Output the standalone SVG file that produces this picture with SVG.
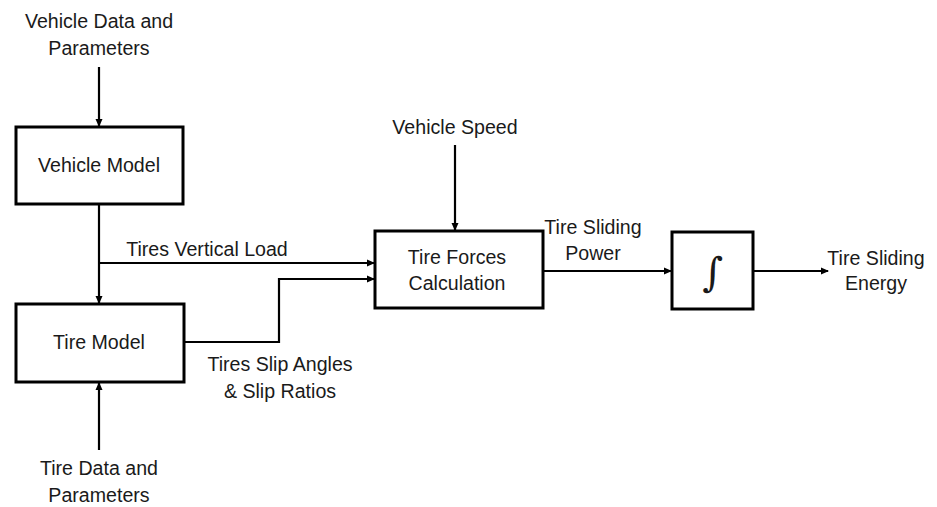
<svg xmlns="http://www.w3.org/2000/svg" width="937" height="507" viewBox="0 0 937 507">
<style>
.box{fill:#fff;stroke:#000;stroke-width:3}
.ln{fill:none;stroke:#000;stroke-width:2.2}
text{font-family:"Liberation Sans",Arial,sans-serif;font-size:19.6px;fill:#1a1a1a;text-anchor:middle}
</style>
<defs>
<marker id="ah" markerWidth="8" markerHeight="8" refX="7" refY="4" orient="auto" markerUnits="userSpaceOnUse">
<path d="M0,0.5 L8,4 L0,7.5 Z" fill="#000"/>
</marker>
</defs>
<rect width="937" height="507" fill="#fff"/>
<g id="connectors">
<line class="ln" x1="99" y1="67" x2="99" y2="126" marker-end="url(#ah)"/>
<line class="ln" x1="99" y1="204" x2="99" y2="303" marker-end="url(#ah)"/>
<line class="ln" x1="99" y1="263" x2="374" y2="263" marker-end="url(#ah)"/>
<polyline class="ln" points="184,342 279,342 279,279 374,279" marker-end="url(#ah)"/>
<line class="ln" x1="99" y1="450" x2="99" y2="383" marker-end="url(#ah)"/>
<line class="ln" x1="455" y1="145" x2="455" y2="230" marker-end="url(#ah)"/>
<line class="ln" x1="543" y1="271" x2="671" y2="271" marker-end="url(#ah)"/>
<line class="ln" x1="753" y1="271" x2="828" y2="271" marker-end="url(#ah)"/>
</g>
<g id="input-vehicle">
<text x="99" y="28">Vehicle Data and</text>
<text x="99" y="55">Parameters</text>
</g>
<g id="vehicle-model">
<rect class="box" x="16" y="127" width="167" height="77"/>
<text x="99" y="172">Vehicle Model</text>
</g>
<g id="tire-model">
<rect class="box" x="16" y="304" width="168" height="78"/>
<text x="99" y="349">Tire Model</text>
</g>
<g id="input-tire">
<text x="99" y="475">Tire Data and</text>
<text x="99" y="502">Parameters</text>
</g>
<g id="label-vertical-load">
<text x="207" y="256">Tires Vertical Load</text>
</g>
<g id="label-slip">
<text x="280" y="371">Tires Slip Angles</text>
<text x="280" y="398">&amp; Slip Ratios</text>
</g>
<g id="input-speed">
<text x="455" y="134">Vehicle Speed</text>
</g>
<g id="tire-forces">
<rect class="box" x="375" y="231" width="168" height="77"/>
<text x="457" y="264">Tire Forces</text>
<text x="457" y="290">Calculation</text>
</g>
<g id="label-power">
<text x="593" y="234">Tire Sliding</text>
<text x="593" y="260">Power</text>
</g>
<g id="integrator">
<rect class="box" x="672" y="232" width="81" height="77"/>
<text x="713" y="286" style="font-family:'DejaVu Serif',serif;font-size:40px;font-style:italic">∫</text>
</g>
<g id="output-energy">
<text x="876" y="265">Tire Sliding</text>
<text x="876" y="290">Energy</text>
</g>
</svg>
